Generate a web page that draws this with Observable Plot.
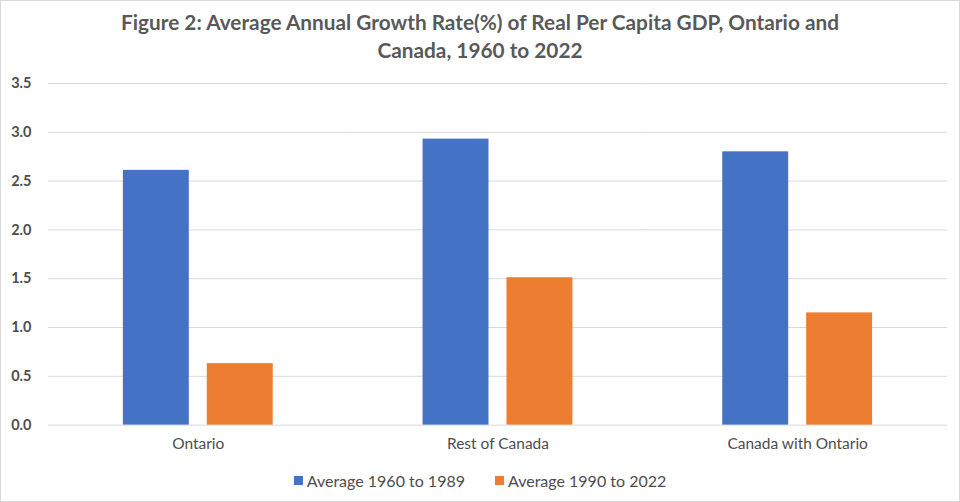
<!DOCTYPE html>
<html>
<head>
<meta charset="utf-8">
<script src="https://cdn.jsdelivr.net/npm/d3@7"></script>
<script src="https://cdn.jsdelivr.net/npm/@observablehq/plot@0.6"></script>
<style>
  html, body { margin: 0; padding: 0; background: #fff; }
  #frame { position: relative; width: 958px; height: 500px; border: 1px solid #d9d9d9; overflow: hidden; font-family: Lato, "Open Sans", sans-serif; }
  #title { position: absolute; left: 0; top: 7px; width: 958px; text-align: center; font-size: 20.8px; font-weight: bold; line-height: 28px; color: #595959; }
  #chart { position: absolute; left: -1px; top: 69px; }
  #legend { position: absolute; left: 0; top: 470px; width: 958px; display: flex; justify-content: center; font-size: 16px; color: #4d4d4d; }
  .item { display: flex; align-items: center; margin: 0 15px; }
  .sw { width: 9px; height: 9px; margin-right: 4px; }
</style>
</head>
<body>
<div id="frame">
  <div id="title">Figure 2: Average Annual Growth Rate(%) of Real Per Capita GDP, Ontario and<br>Canada, 1960 to 2022</div>
  <div id="chart"></div>
  <div id="legend"></div>
</div>
<script>
const categories = ["Ontario", "Rest of Canada", "Canada with Ontario"];
const series = ["Average 1960 to 1989", "Average 1990 to 2022"];
const values1960to1989 = [2.61, 2.93, 2.80];
const values1990to2022 = [0.63, 1.51, 1.15];
const yTicks = [0, 0.5, 1.0, 1.5, 2.0, 2.5, 3.0, 3.5];
const colors = ["#4472C4", "#ED7D31"];

const data = [];
categories.forEach((c, i) => {
  data.push({category: c, series: series[0], value: values1960to1989[i]});
  data.push({category: c, series: series[1], value: values1990to2022[i]});
});

const chart = Plot.plot({
  width: 960,
  height: 390,
  marginLeft: 48,
  marginRight: 12,
  marginTop: 13,
  marginBottom: 35,
  style: {fontFamily: "Lato, 'Open Sans', sans-serif", fontSize: "14px", color: "#4d4d4d", background: "transparent"},
  fx: {domain: categories, padding: 0, label: null},
  x: {domain: series, paddingInner: 0.212, paddingOuter: 0.871, axis: null},
  y: {domain: [0, 3.5], label: null},
  color: {domain: series, range: colors},
  marks: [
    Plot.gridY(yTicks, {stroke: "#d9d9d9", strokeOpacity: 1}),
    Plot.axisY(yTicks, {tickSize: 0, tickPadding: 17, tickFormat: d3.format(".1f"), fontWeight: "bold", fontSize: 14.5, label: null}),
    Plot.axisFx({anchor: "bottom", tickSize: 0, tickPadding: 13, fontSize: 15.5, label: null}),
    Plot.barY(data, {fx: "category", x: "series", y: "value", fill: "series"})
  ]
});
document.getElementById("chart").appendChild(chart);

const legend = document.getElementById("legend");
series.forEach((s, i) => {
  const item = document.createElement("div");
  item.className = "item";
  const sw = document.createElement("div");
  sw.className = "sw";
  sw.style.background = colors[i];
  const t = document.createElement("span");
  t.textContent = s;
  item.appendChild(sw);
  item.appendChild(t);
  legend.appendChild(item);
});
</script>
</body>
</html>
